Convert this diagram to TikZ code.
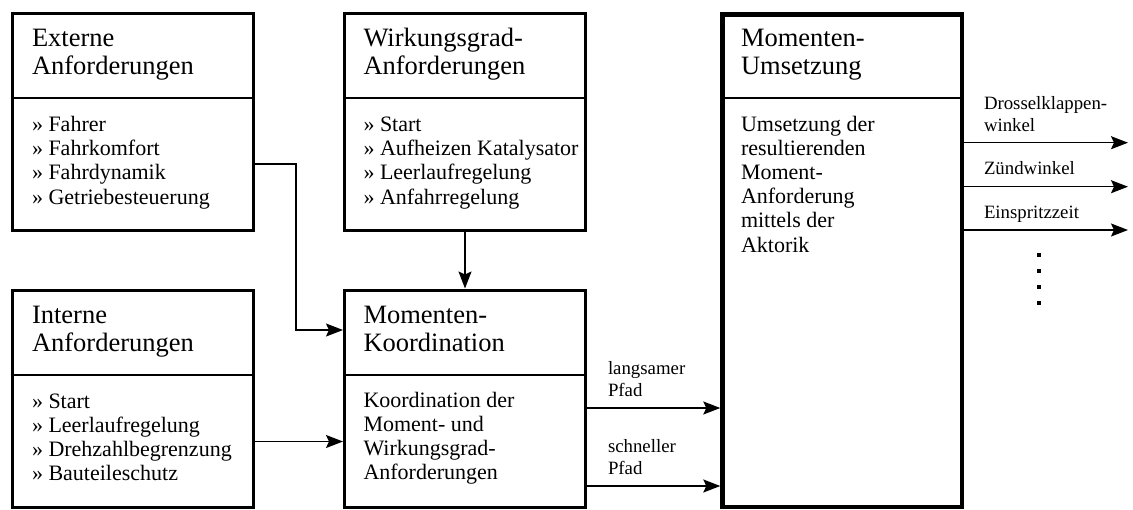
\documentclass[tikz,border=0pt]{standalone}
\usepackage{fontspec}
\setmainfont{Liberation Serif}
\usetikzlibrary{arrows.meta}

% font sizes (1pt = one unit of the drawing grid)
\newcommand\titlesize{\fontsize{26.5}{28}\selectfont}
\newcommand\listsize{\fontsize{22}{24.2}\selectfont}
\newcommand\labelsize{\fontsize{18.8}{21.5}\selectfont}
\newcommand\itm{»\ }

\tikzset{
  frame/.style={draw, line width=3pt, minimum width=241pt, minimum height=217pt,
    anchor=north west, inner sep=0pt},
  bigframe/.style={draw, line width=4.5pt, minimum width=239.5pt, minimum height=492.5pt,
    anchor=north west, inner sep=0pt},
  divider/.style={line width=1.6pt},
  txt/.style={anchor=north west, align=left, inner sep=0pt, outer sep=0pt},
  title/.style={txt, font=\titlesize},
  items/.style={txt, font=\listsize},
  lbl/.style={txt, font=\labelsize},
  conn/.style={line width=1.5pt, -{Stealth[length=17pt,width=13pt,inset=3pt]}},
}

\begin{document}
\begin{tikzpicture}[x=1pt,y=-1pt]
\useasboundingbox (0,0) rectangle (1133,509);

% blocks
\node[frame] (ext) at (10.5,11.5) {};
\node[frame] (wir) at (343,11.5) {};
\node[frame] (int) at (10.5,288.5) {};
\node[frame] (kor) at (343,288.5) {};
\node[bigframe] (ums) at (720.3,12.3) {};

% header separators
\draw[divider] (ext.west |- 0,98) -- (ext.east |- 0,98);
\draw[divider] (wir.west |- 0,98) -- (wir.east |- 0,98);
\draw[divider] (ums.west |- 0,98) -- (ums.east |- 0,98);
\draw[divider] (int.west |- 0,375) -- (int.east |- 0,375);
\draw[divider] (kor.west |- 0,375) -- (kor.east |- 0,375);

% headings (first baseline placed via strut height 0.7*28)
\node[title] (extT) at (32,26.4) {\strut Externe\\Anforderungen};
\node[title] (wirT) at (363.5,26.4) {\strut Wirkungsgrad-\\Anforderungen};
\node[title] (umsT) at (741,26.4) {\strut Momenten-\\Umsetzung};
\node[title] (intT) at (32,303.4) {\strut Interne\\Anforderungen};
\node[title] (korT) at (363.5,303.4) {\strut Momenten-\\Koordination};

% contents (strut height 0.7*24.2)
\node[items] (extL) at (32,114.6) {\strut\itm Fahrer\\\itm Fahrkomfort\\\itm Fahrdynamik\\\itm Getriebesteuerung};
\node[items] (wirL) at (363.5,114.6) {\strut\itm Start\\\itm Aufheizen Katalysator\\\itm Leerlaufregelung\\\itm Anfahrregelung};
\node[items] (umsL) at (741,114.1) {\strut Umsetzung der\\resultierenden\\Moment-\\Anforderung\\mittels der\\Aktorik};
\node[items] (intL) at (32,391.1) {\strut\itm Start\\\itm Leerlaufregelung\\\itm Drehzahlbegrenzung\\\itm Bauteileschutz};
\node[items] (korL) at (363.5,390.1) {\strut Koordination der\\Moment- und\\Wirkungsgrad-\\Anforderungen};

% connectors into the coordination block
\coordinate (bend) at (296,330);
\draw[conn] (ext.east |- 0,164) -| (bend) -- (kor.west |- bend);
\draw[conn] (int.east |- 0,441.5) -- (kor.west |- 0,441.5);
\draw[conn] (wir.south) -- (kor.north);

% slow and fast path
\draw[conn] (kor.east |- 0,408) -- (ums.west |- 0,408);
\draw[conn] (kor.east |- 0,486) -- (ums.west |- 0,486);
\node[lbl] (slow) at (608,359.9) {\strut langsamer\\Pfad};
\node[lbl] (fast) at (608,437.9) {\strut schneller\\Pfad};

% actuator outputs
\coordinate (o1) at (1128,142.7);
\coordinate (o2) at (1128,186.7);
\coordinate (o3) at (1128,230);
\draw[conn] (ums.east |- o1) -- (o1);
\draw[conn] (ums.east |- o2) -- (o2);
\draw[conn] (ums.east |- o3) -- (o3);
\node[lbl] (thr) at (984,94.9) {\strut Drosselklappen-\\winkel};
\node[lbl] (ign) at (984,159.9) {\strut Zündwinkel};
\node[lbl] (inj) at (984,203.9) {\strut Einspritzzeit};

% continuation dots
\foreach \yy in {255,271,287,303}
  \fill (1037.4,\yy-1.6) rectangle ++(3.2,3.2);
\end{tikzpicture}
\end{document}
